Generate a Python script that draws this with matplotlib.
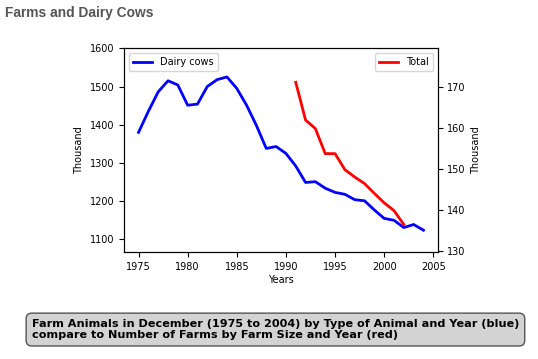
import matplotlib
matplotlib.use("Agg")
import matplotlib.pyplot as plt

# dairy cows, thousand head (left axis)
cow_years = list(range(1975, 2005))
dairy_cows = [1380, 1435, 1486, 1515, 1504, 1451, 1454, 1500, 1518, 1525,
              1495, 1451, 1398, 1338, 1343, 1325, 1292, 1249, 1251, 1234,
              1223, 1218, 1204, 1201, 1177, 1155, 1150, 1131, 1139, 1124]

# number of farms, thousand (right axis)
farm_years = list(range(1991, 2003))
farms_total = [171.1, 161.9, 159.8, 153.7, 153.7, 149.8, 148.0, 146.4,
               144.0, 141.7, 139.8, 136.4]

caption = ("Farm Animals in December (1975 to 2004) by Type of Animal and Year (blue)\n"
           "compare to Number of Farms by Farm Size and Year (red)")

fig = plt.figure(figsize=(5.38, 3.59), dpi=100)
ax = fig.add_axes([0.231, 0.298, 0.5826, 0.5675])

ax.plot(cow_years, dairy_cows, color="blue", lw=2, label="Dairy cows")
ax.set_ylim(1067, 1600)
ax.set_ylabel("Thousand", fontsize=7)
ax.set_xlabel("Years", fontsize=7, labelpad=2)
ax.tick_params(labelsize=7)
ax.legend(loc="upper left", fontsize=7)

ax2 = ax.twinx()
ax2.plot(farm_years, farms_total, color="red", lw=2, label="Total")
ax2.set_ylim(129.7, 179.4)
ax2.set_yticks([130, 140, 150, 160, 170])
ax2.set_ylabel("Thousand", fontsize=7)
ax2.tick_params(labelsize=7)
ax2.legend(loc="upper right", fontsize=7)

fig.text(0.009, 0.965, "Farms and Dairy Cows", fontsize=9.9, fontweight="bold",
         color="#555555", family="Liberation Sans", va="center")

fig.text(0.059, 0.082, caption, fontsize=8.1, fontweight="bold", va="center",
         ha="left", linespacing=1.2,
         bbox=dict(boxstyle="round,pad=0.5", facecolor="lightgray",
                   edgecolor="#555555", lw=1))

fig.savefig("out.png", dpi=100)
